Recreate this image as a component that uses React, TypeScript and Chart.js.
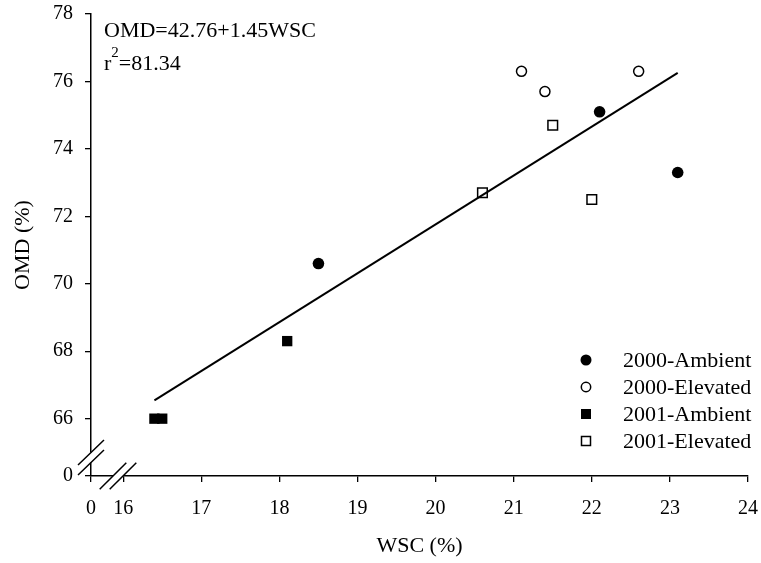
import React, { useEffect, useRef } from 'react';
import { Chart, registerables } from 'chart.js';

Chart.register(...registerables);

// ---- data ----
const xAxisOriginValue = 15.588; // the broken axis start, labelled "0"
const yAxisOriginValue = 64.3; // the broken axis start, labelled "0"
const xTickValues = [16, 17, 18, 19, 20, 21, 22, 23, 24];
const yTickValues = [66, 68, 70, 72, 74, 76, 78];

const seriesLabels = ['2000-Ambient', '2000-Elevated', '2001-Ambient', '2001-Elevated'];

const ambient2000X = [18.5, 22.1, 23.1];
const ambient2000Y = [70.6, 75.1, 73.3];
const elevated2000X = [21.1, 21.4, 22.6];
const elevated2000Y = [76.3, 75.7, 76.3];
const ambient2001X = [16.4, 16.5, 18.1];
const ambient2001Y = [66.0, 66.0, 68.3];
const elevated2001X = [20.6, 21.5, 22.0];
const elevated2001Y = [72.7, 74.7, 72.5];

const fitIntercept = 42.76;
const fitSlope = 1.45;
const fitX = [16.4, 23.1];
const equationText = 'OMD=42.76+1.45WSC';
const r2Text = '=81.34';

const xTitle = 'WSC (%)';
const yTitle = 'OMD (%)';

const FONT = "'Liberation Serif', 'Times New Roman', Times, serif";

const pts = (xs: number[], ys: number[]) => xs.map((x, i) => ({ x, y: ys[i] }));

function drawMarker(ctx: CanvasRenderingContext2D, style: string, filled: boolean, x: number, y: number, r: number) {
  ctx.save();
  ctx.beginPath();
  if (style === 'circle') {
    ctx.arc(x, y, r, 0, Math.PI * 2);
  } else {
    ctx.rect(x - r, y - r, 2 * r, 2 * r);
  }
  ctx.lineWidth = 1.5;
  ctx.strokeStyle = '#000';
  if (filled) {
    ctx.fillStyle = '#000';
    ctx.fill();
  } else {
    ctx.fillStyle = '#fff';
    ctx.fill();
    ctx.stroke();
  }
  ctx.restore();
}

const decorPlugin = {
  id: 'decor',
  afterDraw(chart: any) {
    const ctx = chart.ctx as CanvasRenderingContext2D;
    const xs = chart.scales.x;
    const ys = chart.scales.y;
    const axX = xs.getPixelForValue(xAxisOriginValue);
    const axY = ys.getPixelForValue(yAxisOriginValue);

    ctx.save();
    // axis breaks
    const yb = axY - 18.5;
    ctx.fillStyle = '#fff';
    ctx.fillRect(axX - 2, yb - 5, 4, 10);
    const xb = axX + 27;
    ctx.fillRect(xb - 5, axY - 2, 10, 4);
    ctx.strokeStyle = '#000';
    ctx.lineWidth = 1.5;
    ctx.beginPath();
    for (const d of [-5, 5]) {
      // y-axis slashes
      ctx.moveTo(axX - 13, yb + d + 12.5);
      ctx.lineTo(axX + 13, yb + d - 12.5);
      // x-axis slashes
      ctx.moveTo(xb + d - 13.3, axY + 13.3);
      ctx.lineTo(xb + d + 13.3, axY - 13.3);
    }
    ctx.stroke();

    // equation
    ctx.fillStyle = '#000';
    ctx.textBaseline = 'alphabetic';
    ctx.textAlign = 'left';
    ctx.font = `22px ${FONT}`;
    const tx = chart.chartArea.left + 13;
    ctx.fillText(equationText, tx, 37);
    ctx.fillText('r', tx, 70);
    const rw = ctx.measureText('r').width;
    ctx.font = `15px ${FONT}`;
    ctx.fillText('2', tx + rw, 57);
    const sw = ctx.measureText('2').width;
    ctx.font = `22px ${FONT}`;
    ctx.fillText(r2Text, tx + rw + sw, 70);

    // legend
    const lx = 586;
    const textX = 623;
    const rowY = [360, 387, 414, 441];
    const styles = [
      ['circle', true, 5.5],
      ['circle', false, 4.7],
      ['rect', true, 5],
      ['rect', false, 4.5],
    ] as const;
    ctx.font = `22px ${FONT}`;
    ctx.textBaseline = 'middle';
    seriesLabels.forEach((lab, i) => {
      const [st, filled, r] = styles[i];
      drawMarker(ctx, st, filled, lx, rowY[i], r);
      ctx.fillStyle = '#000';
      ctx.fillText(lab, textX, rowY[i] + 1);
    });
    ctx.restore();
  },
};

export default function App() {
  const ref = useRef<HTMLCanvasElement | null>(null);

  useEffect(() => {
    if (!ref.current) return;
    const tickFont = { family: FONT, size: 20 };
    const chart = new Chart(ref.current, {
      type: 'scatter',
      data: {
        datasets: [
          {
            type: 'line',
            label: 'fit',
            data: fitX.map((x) => ({ x, y: fitIntercept + fitSlope * x })),
            borderColor: '#000',
            borderWidth: 2,
            pointRadius: 0,
            showLine: true,
            fill: false,
            order: 5,
          } as any,
          {
            label: seriesLabels[0],
            data: pts(ambient2000X, ambient2000Y),
            pointStyle: 'circle',
            pointRadius: 5.8,
            backgroundColor: '#000',
            borderColor: '#000',
            borderWidth: 0,
            order: 1,
          },
          {
            label: seriesLabels[1],
            data: pts(elevated2000X, elevated2000Y),
            pointStyle: 'circle',
            pointRadius: 5,
            backgroundColor: 'rgba(0,0,0,0)',
            borderColor: '#000',
            borderWidth: 1.5,
            order: 1,
          },
          {
            label: seriesLabels[2],
            data: pts(ambient2001X, ambient2001Y),
            pointStyle: 'rect',
            pointRadius: 7.3,
            backgroundColor: '#000',
            borderColor: '#000',
            borderWidth: 0,
            order: 1,
          },
          {
            label: seriesLabels[3],
            data: pts(elevated2001X, elevated2001Y),
            pointStyle: 'rect',
            pointRadius: 6.8,
            backgroundColor: 'rgba(0,0,0,0)',
            borderColor: '#000',
            borderWidth: 1.5,
            order: 1,
          },
        ],
      },
      options: {
        responsive: false,
        animation: false,
        events: [],
        layout: { autoPadding: false, padding: { top: 14, right: 13, left: 0, bottom: 0 } },
        plugins: {
          legend: { display: false },
          tooltip: { enabled: false },
        },
        scales: {
          x: {
            type: 'linear',
            min: xAxisOriginValue,
            max: 24,
            afterBuildTicks: (scale: any) => {
              scale.ticks = [xAxisOriginValue, ...xTickValues].map((value) => ({ value }));
            },
            afterFit: (scale: any) => {
              scale.height = 87;
              scale.paddingLeft = 0;
              scale.paddingRight = 0;
            },
            ticks: {
              autoSkip: false,
              maxRotation: 0,
              color: '#000',
              font: tickFont,
              padding: 15,
              callback: (v: any) => (Math.abs(v - xAxisOriginValue) < 1e-6 ? '0' : String(v)),
            },
            grid: {
              display: true,
              drawOnChartArea: false,
              drawTicks: true,
              tickLength: 6,
              color: '#000',
              lineWidth: 1.3,
            },
            border: { display: true, color: '#000', width: 1.5 },
            title: {
              display: true,
              text: xTitle,
              color: '#000',
              font: { family: FONT, size: 22 },
              padding: { top: 0, bottom: 4 },
            },
          },
          y: {
            type: 'linear',
            min: yAxisOriginValue,
            max: 78,
            afterBuildTicks: (scale: any) => {
              scale.ticks = [yAxisOriginValue, ...yTickValues].map((value) => ({ value }));
            },
            afterFit: (scale: any) => {
              scale.width = 91;
              scale.paddingTop = 0;
              scale.paddingBottom = 0;
            },
            ticks: {
              autoSkip: false,
              color: '#000',
              font: tickFont,
              padding: 12,
              callback: (v: any) => (Math.abs(v - yAxisOriginValue) < 1e-6 ? '0' : String(v)),
            },
            grid: {
              display: true,
              drawOnChartArea: false,
              drawTicks: true,
              tickLength: 6,
              color: '#000',
              lineWidth: 1.3,
            },
            border: { display: true, color: '#000', width: 1.5 },
            title: {
              display: true,
              text: yTitle,
              color: '#000',
              font: { family: FONT, size: 22 },
              padding: { top: 10, bottom: 0 },
            },
          },
        },
      },
      plugins: [decorPlugin],
    });
    return () => chart.destroy();
  }, []);

  return (
    <div style={{ position: 'absolute', left: 0, top: 0, width: 761, height: 563, background: '#fff' }}>
      <canvas ref={ref} width={761} height={563} style={{ display: 'block' }} />
    </div>
  );
}
